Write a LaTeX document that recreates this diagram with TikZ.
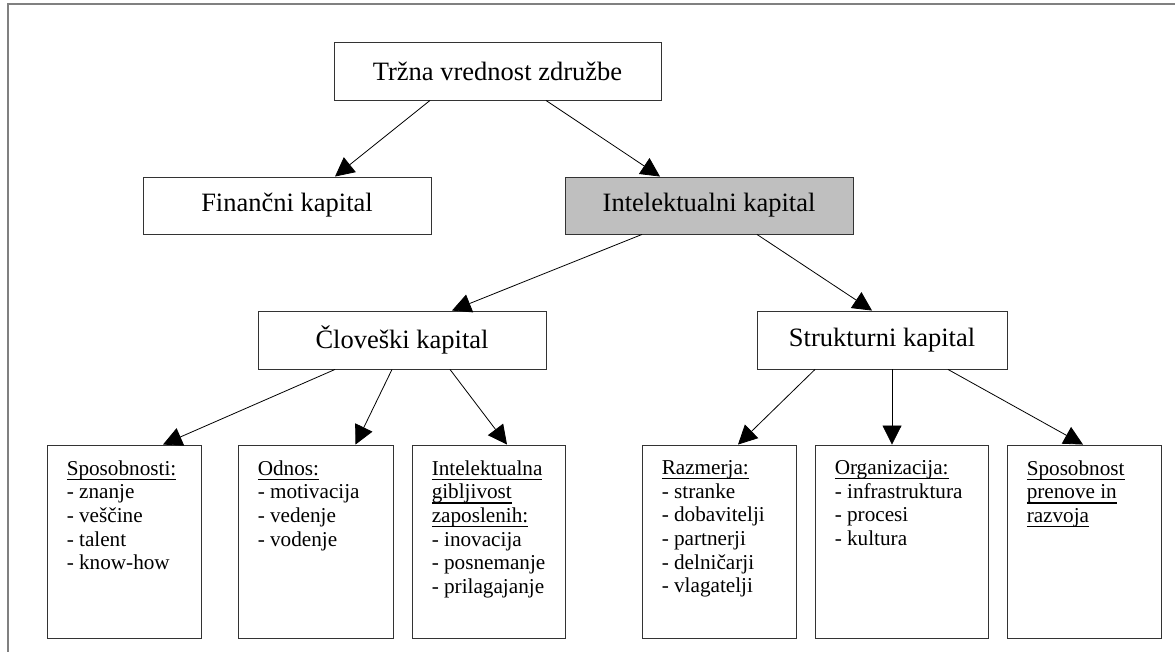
\documentclass[tikz,border=0pt]{standalone}
\usepackage{fontspec}
\setmainfont{Liberation Serif}
\usetikzlibrary{arrows.meta}

% thick underline for the headings in the lower boxes
\newcommand{\ulx}[1]{\setbox0\hbox{#1}\rlap{\rule[-5pt]{\wd0}{1.5pt}}\box0}

\tikzset{
  bigbox/.style={draw=black!80, line width=0.9pt, rectangle, inner sep=0pt,
    font=\fontsize{26.5}{30}\selectfont},
  leafbox/.style={draw=black!80, line width=0.9pt, rectangle, inner sep=0pt,
    minimum height=193pt},
  leaftext/.style={inner sep=0pt, align=left, anchor=north west,
    font=\fontsize{21.2}{23.7}\selectfont},
  link/.style={draw=black, line width=0.8pt, -{Triangle[length=19pt,width=19pt]}},
  frameline/.style={draw=black!50, line width=2pt}
}

\begin{document}
\begin{tikzpicture}[x=1pt,y=-1pt]
\useasboundingbox (0,0) rectangle (1175,652);

% outer frame (top and left edges)
\draw[frameline] (8,652) -- (8,4) -- (1175,4);

% upper levels
\node[bigbox, minimum width=327pt, minimum height=58pt] (top) at (497.5,71) {Tržna vrednost združbe};
\node[bigbox, minimum width=288pt, minimum height=57pt] (fin) at (287,205.5) {Finančni kapital};
\node[bigbox, minimum width=288pt, minimum height=57pt, fill=black!25] (intel) at (709,205.5) {Intelektualni kapital};
\node[bigbox, minimum width=288pt, minimum height=58pt] (clov) at (402,340) {Človeški kapital};
\node[bigbox, minimum width=250pt, minimum height=58pt] (str) at (882,340) {Strukturni kapital};

% lower level boxes
\node[leafbox, minimum width=154pt] (b1) at (124,541.5) {};
\node[leafbox, minimum width=155pt] (b2) at (315.5,541.5) {};
\node[leafbox, minimum width=153pt] (b3) at (488.5,541.5) {};
\node[leafbox, minimum width=154pt] (b4) at (719,541.5) {};
\node[leafbox, minimum width=173pt] (b5) at (901.5,541.5) {};
\node[leafbox, minimum width=154pt] (b6) at (1084,541.5) {};

% contents of the lower boxes
\node[leaftext] (t1) at ([xshift=20pt,yshift=-15.6pt]b1.north west)
  {\ulx{Sposobnosti:}\\- znanje\\- veščine\\- talent\\- know-how};
\node[leaftext] (t2) at ([xshift=20pt,yshift=-15.6pt]b2.north west)
  {\ulx{Odnos:}\\- motivacija\\- vedenje\\- vodenje};
\node[leaftext] (t3) at ([xshift=20pt,yshift=-15.6pt]b3.north west)
  {\ulx{Intelektualna}\\\ulx{gibljivost}\\\ulx{zaposlenih:}\\- inovacija\\- posnemanje\\- prilagajanje};
\node[leaftext] (t4) at ([xshift=20pt,yshift=-15.6pt]b4.north west)
  {\ulx{Razmerja:}\\- stranke\\- dobavitelji\\- partnerji\\- delničarji\\- vlagatelji};
\node[leaftext] (t5) at ([xshift=20pt,yshift=-15.6pt]b5.north west)
  {\ulx{Organizacija:}\\- infrastruktura\\- procesi\\- kultura};
\node[leaftext] (t6) at ([xshift=20pt,yshift=-15.6pt]b6.north west)
  {\ulx{Sposobnost}\\\ulx{prenove in}\\\ulx{razvoja}};

% connectors
\draw[link] ([xshift=-67.5pt]top.south) -- ([xshift=48pt]fin.north);
\draw[link] ([xshift=48.5pt]top.south) -- ([xshift=-49pt]intel.north);
\draw[link] ([xshift=-67pt]intel.south) -- ([xshift=50pt]clov.north);
\draw[link] ([xshift=48pt]intel.south) -- ([xshift=-10pt]str.north);
\draw[link] ([xshift=-67pt]clov.south) -- ([xshift=39pt]b1.north);
\draw[link] ([xshift=-10pt]clov.south) -- ([xshift=40pt]b2.north);
\draw[link] ([xshift=48pt]clov.south) -- ([xshift=18.5pt]b3.north);
\draw[link] ([xshift=-67pt]str.south) -- ([xshift=19pt]b4.north);
\draw[link] ([xshift=10pt]str.south) -- ([xshift=-9.5pt]b5.north);
\draw[link] ([xshift=66pt]str.south) -- ([xshift=-1pt]b6.north);
\end{tikzpicture}
\end{document}
